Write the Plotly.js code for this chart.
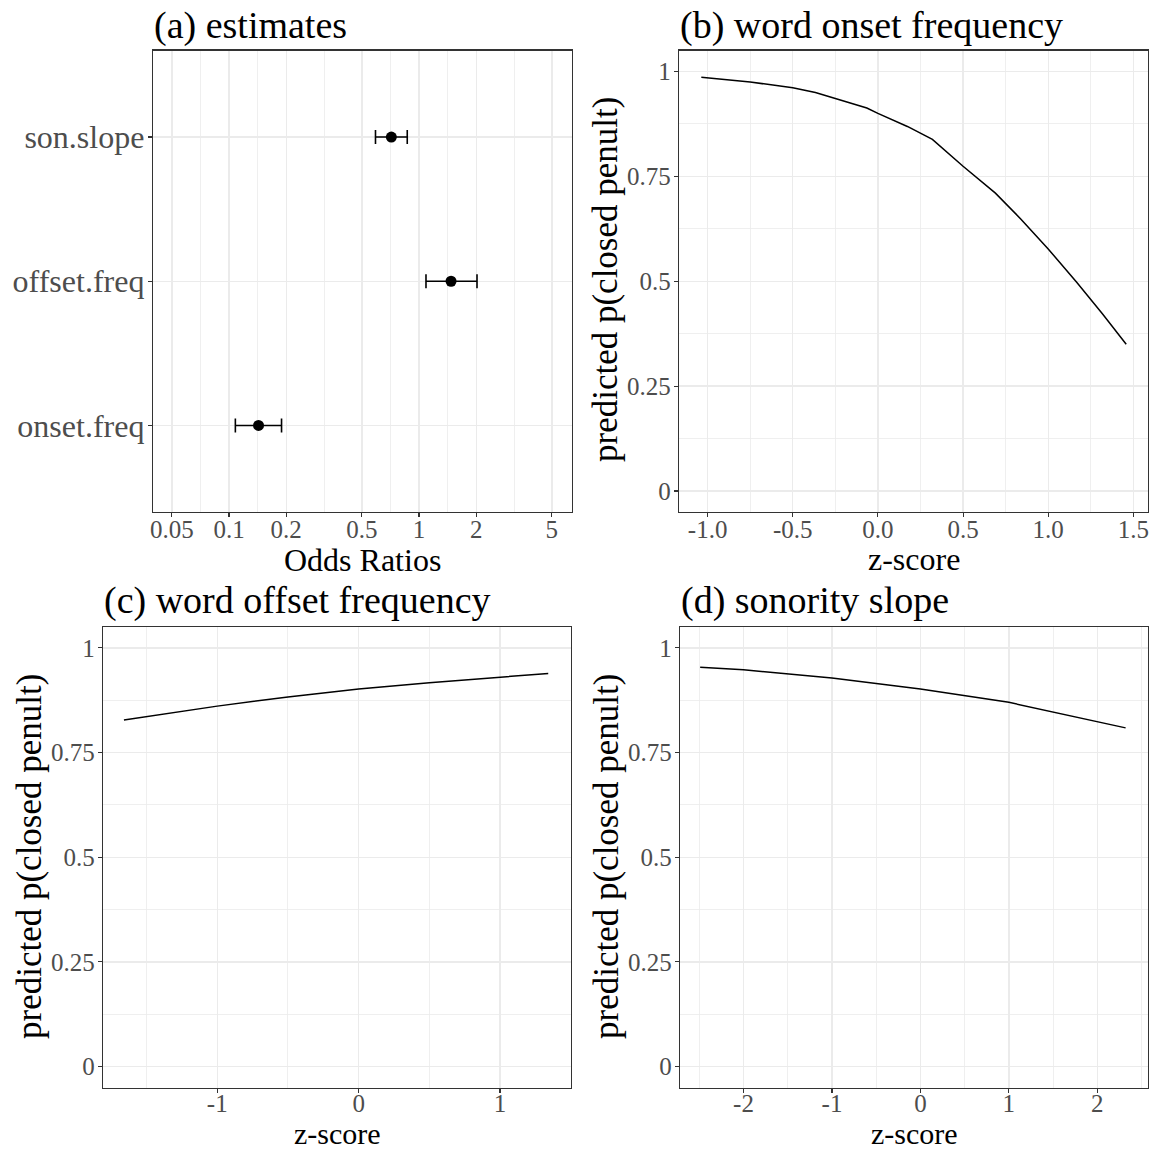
<!DOCTYPE html>
<html>
<head>
<meta charset="utf-8">
<script src="https://cdn.plot.ly/plotly-3.0.1.min.js"></script>
<style>
  html, body { margin: 0; padding: 0; background: #ffffff; }
  #chart { width: 1156px; height: 1151px; }
</style>
</head>
<body>
<div id="chart"></div>
<script>
// ---------- DATA ----------
// (a) estimates: odds ratios with confidence intervals
const estCategories = ['onset.freq', 'offset.freq', 'son.slope'];
const estOR   = [0.143, 1.474, 0.715];
const estLow  = [0.108, 1.088, 0.590];
const estHigh = [0.189, 2.019, 0.867];
const refLine = 1;
const orTickVals = [0.05, 0.1, 0.2, 0.5, 1, 2, 5];
const orTickText = ['0.05', '0.1', '0.2', '0.5', '1', '2', '5'];
const orMinorVals = [0.0707, 0.1414, 0.3162, 0.7071, 1.4142, 3.1623];

// (b) word onset frequency
const onsetZ = [-1.037, -0.75, -0.5, -0.367, -0.065, 0, 0.173, 0.32, 0.5, 0.69, 0.84, 1.0, 1.166, 1.317, 1.458];
const onsetP = [0.986, 0.975, 0.961, 0.950, 0.913, 0.900, 0.869, 0.838, 0.774, 0.710, 0.648, 0.577, 0.498, 0.423, 0.350];

// (c) word offset frequency
const offsetZ = [-1.66, -1, -0.5, 0, 0.5, 1, 1.341];
const offsetP = [0.828, 0.861, 0.883, 0.902, 0.917, 0.931, 0.939];

// (d) sonority slope
const sonZ = [-2.49, -2, -1, 0, 1, 2, 2.32];
const sonP = [0.954, 0.948, 0.928, 0.902, 0.870, 0.824, 0.809];

// tick labels
const probTickVals = [0, 0.25, 0.5, 0.75, 1];
const probTickText = ['0', '0.25', '0.5', '0.75', '1'];
const probMinorVals = [0.125, 0.375, 0.625, 0.875];
const bTickVals = [-1, -0.5, 0, 0.5, 1, 1.5];
const bTickText = ['-1.0', '-0.5', '0.0', '0.5', '1.0', '1.5'];
const bMinorVals = [-0.75, -0.25, 0.25, 0.75, 1.25];
const cTickVals = [-1, 0, 1];
const cTickText = ['-1', '0', '1'];
const cMinorVals = [-1.5, -0.5, 0.5];
const dTickVals = [-2, -1, 0, 1, 2];
const dTickText = ['-2', '-1', '0', '1', '2'];
const dMinorVals = [-2.5, -1.5, -0.5, 0.5, 1.5, 2.5];

const panelTitles = ['(a) estimates', '(b) word onset frequency', '(c) word offset frequency', '(d) sonority slope'];
const xTitles = ['Odds Ratios', 'z-score', 'z-score', 'z-score'];
const yTitle = 'predicted p(closed penult)';

// ---------- STYLE ----------
const W = 1156, H = 1151;
const FONT = 'Liberation Serif, Times New Roman, serif';
const GRID = '#ebebeb';
const BORDER = '#333333';
const TICKCOL = '#4d4d4d';
const px = v => v / W;
const py = v => 1 - v / H;

function baseAxis(domain, extra) {
  return Object.assign({
    domain: domain,
    showline: true, mirror: true, linecolor: BORDER, linewidth: 1.2,
    ticks: 'outside', ticklen: 4, tickwidth: 1.1, tickcolor: BORDER,
    showgrid: true, gridcolor: GRID, gridwidth: 1.4,
    zeroline: false,
    tickfont: { family: FONT, size: 25, color: TICKCOL },
    fixedrange: true
  }, extra);
}
function minorGrid(vals) {
  return { tickmode: 'array', tickvals: vals, showgrid: true, gridcolor: GRID, gridwidth: 0.8, ticks: '' };
}

const rowTop = [py(512), py(50.5)];
const rowBot = [py(1087.5), py(627)];
const XSTAND = -9;
const XSTAND_BOT = -11;
const YSTAND = -2;

// ---------- TRACES ----------
const traces = [
  {
    type: 'scatter', mode: 'markers',
    x: estOR, y: estCategories,
    xaxis: 'x', yaxis: 'y',
    marker: { color: '#000000', size: 11 },
    error_x: {
      type: 'data', symmetric: false,
      array: estOR.map((v, i) => estHigh[i] - v),
      arrayminus: estOR.map((v, i) => v - estLow[i]),
      color: '#000000', thickness: 1.6, width: 7
    },
    showlegend: false, hoverinfo: 'x+y'
  },
  {
    type: 'scatter', mode: 'lines', x: onsetZ, y: onsetP,
    xaxis: 'x2', yaxis: 'y2', line: { color: '#000000', width: 1.5 }, showlegend: false
  },
  {
    type: 'scatter', mode: 'lines', x: offsetZ, y: offsetP,
    xaxis: 'x3', yaxis: 'y3', line: { color: '#000000', width: 1.5 }, showlegend: false
  },
  {
    type: 'scatter', mode: 'lines', x: sonZ, y: sonP,
    xaxis: 'x4', yaxis: 'y4', line: { color: '#000000', width: 1.5 }, showlegend: false
  }
];

// ---------- LAYOUT ----------
const layout = {
  width: W, height: H,
  margin: { l: 0, r: 0, t: 0, b: 0 },
  paper_bgcolor: '#ffffff', plot_bgcolor: '#ffffff',
  font: { family: FONT, color: '#000000' },
  showlegend: false,

  xaxis: baseAxis([px(153), px(572)], {
    type: 'log', range: [-1.4, 0.805], anchor: 'y',
    tickmode: 'array', tickvals: orTickVals, ticktext: orTickText,
    minor: minorGrid(orMinorVals), ticklabelstandoff: XSTAND
  }),
  yaxis: baseAxis(rowTop, {
    type: 'category', anchor: 'x',
    categoryorder: 'array', categoryarray: estCategories,
    range: [-0.6, 2.6],
    tickfont: { family: FONT, size: 32, color: TICKCOL },
    ticklabelstandoff: -3
  }),

  xaxis2: baseAxis([px(679), px(1148)], {
    range: [-1.168, 1.586], anchor: 'y2',
    tickmode: 'array', tickvals: bTickVals, ticktext: bTickText,
    minor: minorGrid(bMinorVals), ticklabelstandoff: XSTAND
  }),
  yaxis2: baseAxis(rowTop, {
    range: [-0.05, 1.05], anchor: 'x2',
    tickmode: 'array', tickvals: probTickVals, ticktext: probTickText,
    minor: minorGrid(probMinorVals), ticklabelstandoff: YSTAND
  }),

  xaxis3: baseAxis([px(103), px(571)], {
    range: [-1.808, 1.502], anchor: 'y3',
    tickmode: 'array', tickvals: cTickVals, ticktext: cTickText,
    minor: minorGrid(cMinorVals), ticklabelstandoff: XSTAND_BOT
  }),
  yaxis3: baseAxis(rowBot, {
    range: [-0.05, 1.05], anchor: 'x3',
    tickmode: 'array', tickvals: probTickVals, ticktext: probTickText,
    minor: minorGrid(probMinorVals), ticklabelstandoff: YSTAND
  }),

  xaxis4: baseAxis([px(680), px(1148)], {
    range: [-2.718, 2.573], anchor: 'y4',
    tickmode: 'array', tickvals: dTickVals, ticktext: dTickText,
    minor: minorGrid(dMinorVals), ticklabelstandoff: XSTAND_BOT
  }),
  yaxis4: baseAxis(rowBot, {
    range: [-0.05, 1.05], anchor: 'x4',
    tickmode: 'array', tickvals: probTickVals, ticktext: probTickText,
    minor: minorGrid(probMinorVals), ticklabelstandoff: YSTAND
  }),

  shapes: [
    {
      type: 'line', xref: 'x', yref: 'y domain',
      x0: Math.log10(refLine), x1: Math.log10(refLine), y0: 0, y1: 1,
      line: { color: '#000000', width: 1.3, dash: 'dot' }
    }
  ],

  annotations: []
};

// panel titles
const titlePos = [[152, 25], [678, 25], [102, 600], [679, 600]];
panelTitles.forEach((t, i) => {
  layout.annotations.push({
    text: t, xref: 'paper', yref: 'paper',
    x: px(titlePos[i][0]), y: py(titlePos[i][1]),
    xanchor: 'left', yanchor: 'middle', showarrow: false,
    font: { family: FONT, size: 38, color: '#000000' }
  });
});
// x-axis titles
const xTitlePos = [[362.5, 560, 32], [913.5, 559, 32], [337, 1133, 30], [914, 1133, 30]];
xTitles.forEach((t, i) => {
  layout.annotations.push({
    text: t, xref: 'paper', yref: 'paper',
    x: px(xTitlePos[i][0]), y: py(xTitlePos[i][1]),
    xanchor: 'center', yanchor: 'middle', showarrow: false,
    font: { family: FONT, size: xTitlePos[i][2], color: '#000000' }
  });
});
// y-axis titles (panels b, c, d)
const yTitlePos = [[606, 280], [29, 857], [606, 857]];
yTitlePos.forEach(p => {
  layout.annotations.push({
    text: yTitle, xref: 'paper', yref: 'paper',
    x: px(p[0]), y: py(p[1]),
    xanchor: 'center', yanchor: 'middle', textangle: -90, showarrow: false,
    font: { family: FONT, size: 35, color: '#000000' }
  });
});

Plotly.newPlot('chart', traces, layout, { staticPlot: true, displayModeBar: false });
</script>
</body>
</html>
